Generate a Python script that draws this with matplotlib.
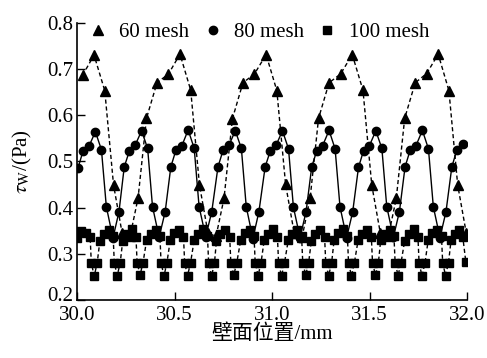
import matplotlib
matplotlib.use('Agg')
import matplotlib.pyplot as plt
import matplotlib.transforms as mtransforms

plt.rcParams['font.family'] = ['Liberation Serif', 'Noto Sans CJK SC']
plt.rcParams['mathtext.fontset'] = 'stix'
plt.rcParams['axes.unicode_minus'] = False

# 60 mesh
x60 = [30.027,
       30.086, 30.141, 30.186, 30.230, 30.271, 30.312, 30.355, 30.409, 30.468,
       30.527, 30.582, 30.627, 30.671, 30.712, 30.753, 30.796, 30.850, 30.909,
       30.969, 31.024, 31.069, 31.113, 31.154, 31.195, 31.238, 31.292, 31.351,
       31.411, 31.466, 31.511, 31.555, 31.596, 31.637, 31.680, 31.734, 31.793,
       31.852, 31.907, 31.952, 31.996]
y60 = [0.686,
       0.730, 0.653, 0.449, 0.345, 0.338, 0.421, 0.593, 0.670, 0.689,
       0.732, 0.654, 0.449, 0.344, 0.338, 0.420, 0.592, 0.670, 0.689,
       0.731, 0.653, 0.450, 0.345, 0.337, 0.421, 0.593, 0.670, 0.689,
       0.731, 0.654, 0.449, 0.345, 0.338, 0.420, 0.593, 0.670, 0.690,
       0.732, 0.653, 0.449, 0.345]

# 80 mesh
x80 = [30.004, 30.030, 30.060, 30.093, 30.124, 30.149, 30.183, 30.214,
       30.241, 30.267, 30.297, 30.330, 30.361, 30.386, 30.420, 30.451,
       30.480, 30.506, 30.536, 30.569, 30.600, 30.625, 30.659, 30.690,
       30.722, 30.748, 30.778, 30.811, 30.842, 30.867, 30.901, 30.932,
       30.964, 30.990, 31.020, 31.053, 31.084, 31.109, 31.143, 31.174,
       31.203, 31.229, 31.259, 31.292, 31.323, 31.348, 31.382, 31.413,
       31.443, 31.469, 31.499, 31.532, 31.563, 31.588, 31.622, 31.653,
       31.682, 31.708, 31.738, 31.771, 31.802, 31.827, 31.861, 31.892,
       31.922, 31.948, 31.978]
y80 = [0.486, 0.523, 0.533, 0.564, 0.525, 0.402, 0.334, 0.391,
       0.488, 0.522, 0.535, 0.566, 0.528, 0.402, 0.336, 0.391,
       0.488, 0.524, 0.533, 0.568, 0.528, 0.402, 0.337, 0.391,
       0.488, 0.524, 0.535, 0.566, 0.528, 0.402, 0.333, 0.391,
       0.488, 0.522, 0.535, 0.566, 0.527, 0.401, 0.335, 0.391,
       0.488, 0.523, 0.534, 0.567, 0.527, 0.402, 0.335, 0.390,
       0.487, 0.523, 0.534, 0.566, 0.528, 0.402, 0.336, 0.391,
       0.488, 0.524, 0.534, 0.567, 0.527, 0.402, 0.335, 0.391,
       0.488, 0.525, 0.538]

# 100 mesh
x100 = [30.000, 30.018, 30.044, 30.066, 30.072, 30.087, 30.102,
        30.116, 30.136, 30.162, 30.184, 30.190, 30.205, 30.220,
        30.233, 30.253, 30.279, 30.301, 30.307, 30.322, 30.337,
        30.356, 30.376, 30.402, 30.424, 30.430, 30.445, 30.460,
        30.477, 30.497, 30.523, 30.545, 30.551, 30.566, 30.581,
        30.600, 30.620, 30.646, 30.668, 30.674, 30.689, 30.704,
        30.714, 30.734, 30.760, 30.782, 30.788, 30.803, 30.818,
        30.839, 30.859, 30.885, 30.907, 30.913, 30.928, 30.943,
        30.959, 30.979, 31.005, 31.027, 31.033, 31.048, 31.063,
        31.083, 31.103, 31.129, 31.151, 31.157, 31.172, 31.187,
        31.201, 31.221, 31.247, 31.269, 31.275, 31.290, 31.305,
        31.318, 31.338, 31.364, 31.386, 31.392, 31.407, 31.422,
        31.441, 31.461, 31.487, 31.509, 31.515, 31.530, 31.545,
        31.557, 31.577, 31.603, 31.625, 31.631, 31.646, 31.661,
        31.680, 31.700, 31.726, 31.748, 31.754, 31.769, 31.784,
        31.801, 31.821, 31.847, 31.869, 31.875, 31.890, 31.905,
        31.918, 31.938, 31.960, 31.978, 31.994]
y100 = [0.335, 0.350, 0.345, 0.336, 0.280, 0.252, 0.280,
        0.328, 0.343, 0.352, 0.338, 0.280, 0.253, 0.280,
        0.327, 0.343, 0.353, 0.337, 0.281, 0.254, 0.280,
        0.330, 0.342, 0.352, 0.338, 0.280, 0.252, 0.281,
        0.329, 0.344, 0.352, 0.337, 0.280, 0.253, 0.280,
        0.330, 0.343, 0.353, 0.338, 0.281, 0.252, 0.280,
        0.328, 0.343, 0.352, 0.337, 0.280, 0.254, 0.280,
        0.330, 0.344, 0.352, 0.338, 0.280, 0.253, 0.281,
        0.329, 0.343, 0.353, 0.337, 0.280, 0.252, 0.280,
        0.330, 0.342, 0.352, 0.338, 0.281, 0.254, 0.280,
        0.328, 0.343, 0.352, 0.337, 0.280, 0.253, 0.280,
        0.330, 0.344, 0.353, 0.338, 0.280, 0.252, 0.281,
        0.329, 0.343, 0.352, 0.337, 0.280, 0.254, 0.280,
        0.330, 0.343, 0.352, 0.338, 0.281, 0.253, 0.280,
        0.328, 0.342, 0.353, 0.337, 0.280, 0.252, 0.280,
        0.330, 0.344, 0.352, 0.338, 0.280, 0.253, 0.281,
        0.329, 0.343, 0.352, 0.337, 0.282]

fig = plt.figure(figsize=(4.87, 3.58), dpi=100)
ax = fig.add_axes([0.1587, 0.162, 0.8003, 0.7746])

dash = (0, (3, 2))
ax.plot(x100, y100, color='black', linestyle=dash, linewidth=1.0,
        marker='s', markersize=5.2, zorder=2)
ax.plot(x60, y60, color='black', linestyle=dash, linewidth=1.0,
        marker='^', markersize=6.5, zorder=3)
ax.plot(x80, y80, color='black', linestyle='-', linewidth=1.0,
        marker='o', markersize=6.0, zorder=4)

# legend: markers only
h60, = ax.plot([], [], 'k^', markersize=6.5, linestyle='none')
h80, = ax.plot([], [], 'ko', markersize=6.0, linestyle='none')
h100, = ax.plot([], [], 'ks', markersize=5.2, linestyle='none')
ax.legend([h60, h80, h100], ['60 mesh', '80 mesh', '100 mesh'],
          loc='upper center', bbox_to_anchor=(0.465, 1.03), ncol=3,
          frameon=False, fontsize=15, handlelength=1.0,
          handletextpad=0.55, columnspacing=0.6, borderaxespad=0)

ax.set_xlim(30.0, 32.0)
ax.set_ylim(0.2, 0.8)
ax.set_xticks([30.0, 30.5, 31.0, 31.5, 32.0])
ax.set_xticklabels(['30.0', '30.5', '31.0', '31.5', '32.0'])
ax.set_yticks([0.2, 0.3, 0.4, 0.5, 0.6, 0.7, 0.8])
ax.set_yticklabels(['0.2', '0.3', '0.4', '0.5', '0.6', '0.7', '0.8'])
ax.tick_params(direction='in', length=6, width=1, labelsize=15)
ax.tick_params(axis='y', pad=3)
ax.tick_params(axis='x', pad=4)
ax.spines['top'].set_visible(False)
ax.spines['right'].set_visible(False)
for s in ['left', 'bottom']:
    ax.spines[s].set_linewidth(1.2)

# lift the "0.2" label a little so it clears "30.0"
lab0 = ax.get_yticklabels()[0]
lab0.set_transform(lab0.get_transform() +
                   mtransforms.ScaledTranslation(0, 4 / 72, fig.dpi_scale_trans))

ax.set_xlabel('壁面位置/mm', fontsize=15, labelpad=0)
ax.set_ylabel(r'$\tau_{\rm W}$/(Pa)', fontsize=15, labelpad=9)

fig.savefig('out.png', dpi=100)
